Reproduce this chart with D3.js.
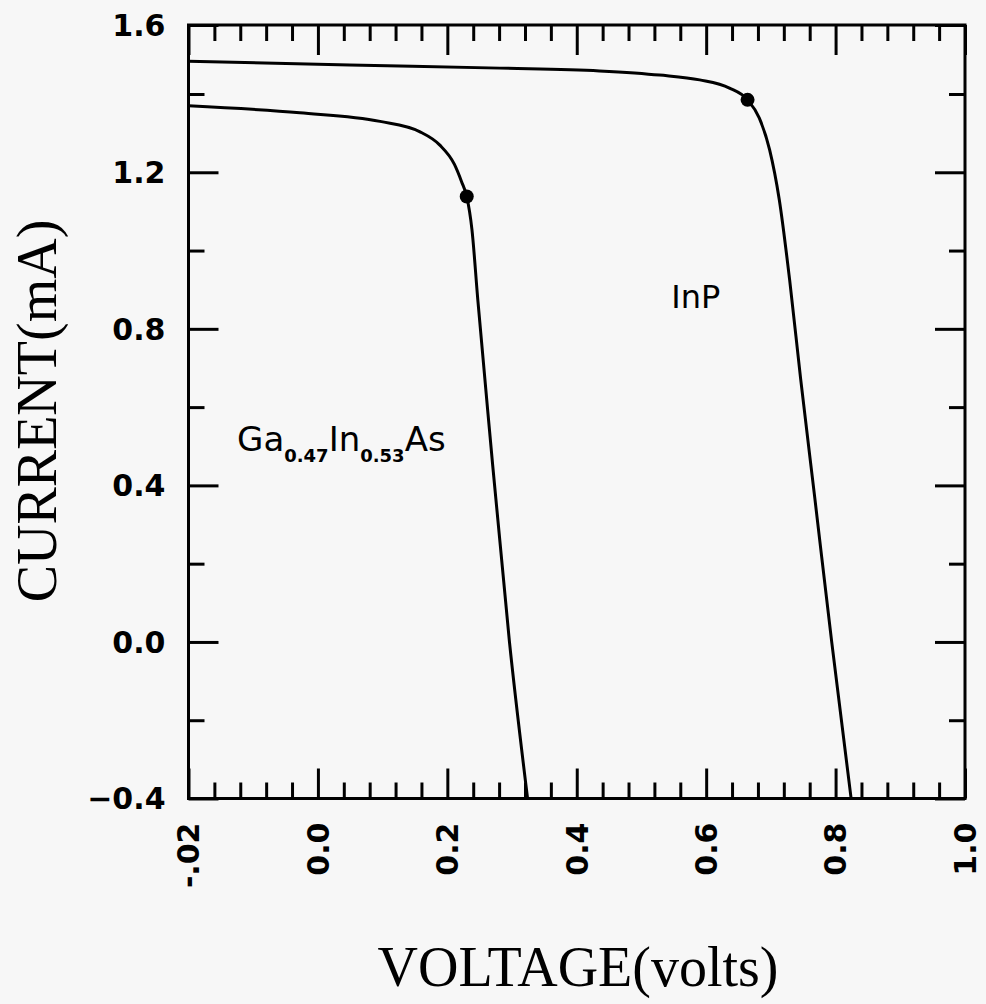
<!DOCTYPE html>
<html>
<head>
<meta charset="utf-8">
<script src="https://cdn.jsdelivr.net/npm/d3@7"></script>
<style>
  html, body { margin: 0; padding: 0; background: #f7f7f7; }
  svg { display: block; }
</style>
</head>
<body>
<svg id="chart" width="986" height="1004"></svg>
<script>
// ---- data ----
const inpV = [-0.2, 0.049, 0.281, 0.435, 0.528, 0.590, 0.636, 0.664, 0.682, 0.698, 0.713, 0.729, 0.746, 0.768, 0.794, 0.824];
const inpI = [1.495, 1.484, 1.475, 1.467, 1.455, 1.441, 1.417, 1.385, 1.339, 1.258, 1.13, 0.925, 0.672, 0.366, 0.0, -0.4];
const gaV = [-0.2, -0.028, 0.096, 0.157, 0.188, 0.211, 0.222, 0.230, 0.238, 0.247, 0.265, 0.296, 0.324];
const gaI = [1.37, 1.352, 1.33, 1.304, 1.27, 1.22, 1.176, 1.138, 1.054, 0.876, 0.544, 0.0, -0.4];
const markerV = [0.664, 0.230];
const markerI = [1.385, 1.138];
const xMajor = [-0.2, 0.0, 0.2, 0.4, 0.6, 0.8, 1.0];
const xTickLabels = ["-.02", "0.0", "0.2", "0.4", "0.6", "0.8", "1.0"];
const xMinor = d3.range(0, 31).map(i => +(-0.2 + i * 0.04).toFixed(2)).filter(v => !xMajor.some(m => Math.abs(m - v) < 1e-9));
const yMajor = [-0.4, 0.0, 0.4, 0.8, 1.2, 1.6];
const yTickLabels = ["\u22120.4", "0.0", "0.4", "0.8", "1.2", "1.6"];
const yMinor = [-0.2, 0.2, 0.6, 1.0, 1.4];
const xTitle = "VOLTAGE(volts)";
const yTitle = "CURRENT(mA)";
const labelInP = { text: "InP", v: 0.546, i: 0.853 };
const labelGa = { v: -0.125, i: 0.488 };

// ---- layout ----
const svg = d3.select("#chart");
const x = d3.scaleLinear().domain([-0.2, 1.0]).range([188.5, 965]);
const y = d3.scaleLinear().domain([-0.4, 1.4, 1.6]).range([798.5, 94, 25]);
const L = 188.5, R = 965, T = 25, B = 798.5;
const majorLen = 30, minorLen = 16;
const tickFont = "'DejaVu Sans', sans-serif";

// frame ticks via axes (pointing inward)
function tickAxis(gen, scale, vals, len, transform) {
  const g = svg.append("g").attr("transform", transform)
    .call(gen(scale).tickValues(vals).tickSize(-len).tickFormat(""));
  g.select(".domain").remove();
  g.selectAll(".tick line").attr("stroke", "#000").attr("stroke-width", 3);
}
tickAxis(d3.axisBottom, x, xMajor, majorLen, `translate(0,${B})`);
tickAxis(d3.axisBottom, x, xMinor, minorLen, `translate(0,${B})`);
tickAxis(d3.axisTop, x, xMajor, majorLen, `translate(0,${T})`);
tickAxis(d3.axisTop, x, xMinor, minorLen, `translate(0,${T})`);
tickAxis(d3.axisLeft, y, yMajor, majorLen, `translate(${L},0)`);
tickAxis(d3.axisLeft, y, yMinor, minorLen, `translate(${L},0)`);
tickAxis(d3.axisRight, y, yMajor, majorLen, `translate(${R},0)`);
tickAxis(d3.axisRight, y, yMinor, minorLen, `translate(${R},0)`);

// frame
svg.append("rect").attr("x", L).attr("y", T).attr("width", R - L).attr("height", B - T)
  .attr("fill", "none").attr("stroke", "#000").attr("stroke-width", 3);

// y tick labels
svg.append("g").selectAll("text").data(yMajor).join("text")
  .attr("x", L - 23).attr("y", d => y(d)).attr("dy", "0.36em")
  .attr("text-anchor", "end")
  .attr("font-family", tickFont).attr("font-weight", "bold").attr("font-size", 30)
  .text((d, i) => yTickLabels[i]);

// x tick labels (rotated)
svg.append("g").selectAll("text").data(xMajor).join("text")
  .attr("transform", d => `translate(${x(d)},${B + 24}) rotate(-90)`)
  .attr("dy", "0.36em")
  .attr("text-anchor", "end")
  .attr("font-family", tickFont).attr("font-weight", "bold").attr("font-size", 30)
  .text((d, i) => xTickLabels[i]);

// axis titles
svg.append("text").attr("x", 578).attr("y", 986).attr("text-anchor", "middle")
  .attr("font-family", "'Liberation Serif', serif").attr("font-size", 56).text(xTitle);
svg.append("text").attr("transform", "translate(56,411) rotate(-90)").attr("text-anchor", "middle")
  .attr("font-family", "'Liberation Serif', serif").attr("font-size", 56).text(yTitle);

// curves
const line = d3.line().x(d => x(d[0])).y(d => y(d[1])).curve(d3.curveMonotoneX);
const inp = inpV.map((v, i) => [v, inpI[i]]);
const ga = gaV.map((v, i) => [v, gaI[i]]);
[inp, ga].forEach(data => {
  svg.append("path").datum(data).attr("d", line)
    .attr("fill", "none").attr("stroke", "#000").attr("stroke-width", 3);
});

// markers
svg.append("g").selectAll("circle").data(markerV).join("circle")
  .attr("cx", d => x(d)).attr("cy", (d, i) => y(markerI[i])).attr("r", 7).attr("fill", "#000");

// curve labels
svg.append("text").attr("x", x(labelInP.v)).attr("y", y(labelInP.i))
  .attr("font-family", tickFont).attr("font-size", 32).text(labelInP.text);

const gt = svg.append("text").attr("x", x(labelGa.v)).attr("y", y(labelGa.i))
  .attr("font-family", tickFont).attr("font-size", 34);
gt.append("tspan").text("Ga");
gt.append("tspan").attr("dy", 11).attr("font-size", 18).attr("font-weight", "bold").text("0.47");
gt.append("tspan").attr("dy", -11).text("In");
gt.append("tspan").attr("dy", 11).attr("font-size", 18).attr("font-weight", "bold").text("0.53");
gt.append("tspan").attr("dy", -11).text("As");
</script>
</body>
</html>
